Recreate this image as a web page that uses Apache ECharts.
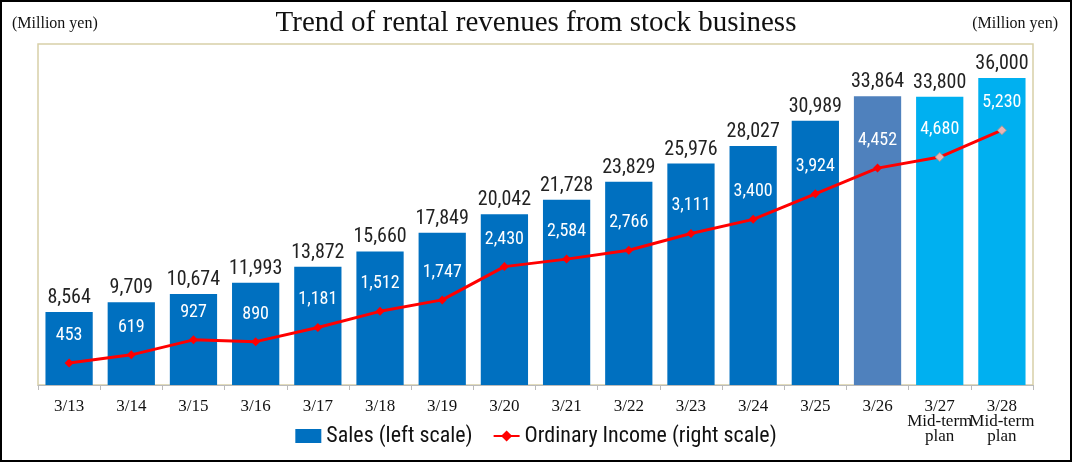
<!DOCTYPE html>
<html><head><meta charset="utf-8">
<script src="https://cdn.jsdelivr.net/npm/echarts@6/dist/echarts.min.js"></script>
<style>html,body{margin:0;padding:0;background:#fff}#c{width:1068px;height:458px;border:2px solid #000}</style>
</head><body><div id="c"></div>
<script>
const categories=['3/13','3/14','3/15','3/16','3/17','3/18','3/19','3/20','3/21','3/22','3/23','3/24','3/25','3/26','3/27\nMid-term\nplan','3/28\nMid-term\nplan'];
const sales=[8564,9709,10674,11993,13872,15660,17849,20042,21728,23829,25976,28027,30989,33864,33800,36000];
const income=[453,619,927,890,1181,1512,1747,2430,2584,2766,3111,3400,3924,4452,4680,5230];
const barColors=['#0070c0','#0070c0','#0070c0','#0070c0','#0070c0','#0070c0','#0070c0','#0070c0','#0070c0','#0070c0','#0070c0','#0070c0','#0070c0','#4f81bd','#00b0f0','#00b0f0'];
const NF="'Liberation Sans Narrow','Arial Narrow','Roboto Condensed','Liberation Sans',sans-serif";
const SF="'Liberation Serif','Times New Roman',serif";
const chart=echarts.init(document.getElementById('c'));
chart.setOption({
 animation:false,
 title:{text:'Trend of rental revenues from stock business',left:'center',top:2,textStyle:{fontFamily:SF,fontWeight:'normal',fontSize:29,color:'#111'}},
 graphic:[
  {type:'text',left:10,top:14,style:{text:'(Million yen)',font:"16px "+SF,fill:'#111'}},
  {type:'text',right:12,top:14,style:{text:'(Million yen)',font:"16px "+SF,fill:'#111'}}
 ],
 grid:{left:36,right:37,top:42,bottom:75,show:true,borderColor:'#d8d0a8',borderWidth:1.5},
 legend:{bottom:8,left:'center',itemGap:20,textStyle:{fontFamily:NF,fontSize:22,color:'#111'},itemWidth:26,itemHeight:14,
  data:[{name:'Sales (left scale)',icon:'rect',itemStyle:{color:'#0070c0'}},{name:'Ordinary Income (right scale)'}]},
 xAxis:{type:'category',data:categories,axisLine:{lineStyle:{color:'#bbb'}},axisTick:{show:true,lineStyle:{color:'#bbb'}},
  axisLabel:{interval:0,fontFamily:SF,color:'#111',fontSize:17,lineHeight:15,margin:14,
   rich:{}}},
 yAxis:[{type:'value',min:0,max:40000,show:false,splitLine:{show:false}},{type:'value',min:0,max:7000,show:false,splitLine:{show:false}}],
 series:[
  {name:'Sales (left scale)',type:'bar',barWidth:'76%',data:sales.map((v,i)=>({value:v,itemStyle:{color:barColors[i]}})),
   label:{show:true,position:'top',distance:4,fontFamily:NF,fontSize:20,color:'#222',formatter:p=>p.value.toLocaleString('en-US')}},
  {name:'Ordinary Income (right scale)',type:'line',yAxisIndex:1,data:income.map((v,i)=>i>=14?{value:v,itemStyle:{color:'#e8b4b4',borderColor:'#999',borderWidth:1}}:v),
   symbol:'diamond',symbolSize:9,lineStyle:{color:'#ff0000',width:3},itemStyle:{color:'#ff0000'},
   label:{show:true,position:'top',distance:14,fontFamily:NF,fontSize:18,color:'#fff',formatter:p=>p.value.toLocaleString('en-US')}}
 ]
});
</script></body></html>
